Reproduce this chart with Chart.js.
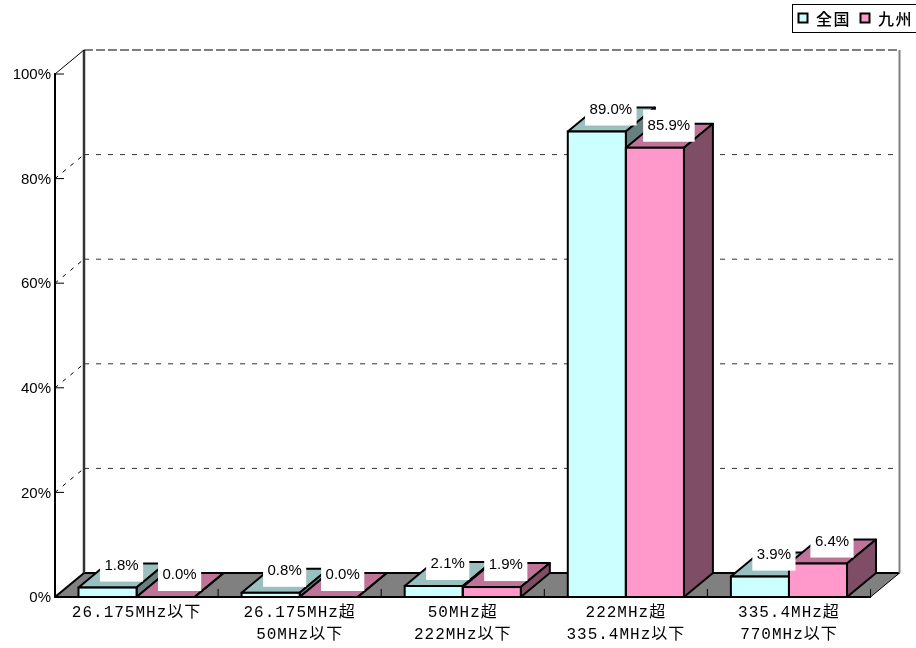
<!DOCTYPE html>
<html>
<head>
<meta charset="utf-8">
<script src="https://cdn.jsdelivr.net/npm/chart.js@4"></script>
<style>
  html, body { margin: 0; background: #fff; }
  canvas { display: block; }
</style>
</head>
<body>
<canvas id="myChart" width="916" height="648"></canvas>
<script>
var categories = [
  "26.175MHz以下",
  ["26.175MHz超", "50MHz以下"],
  ["50MHz超", "222MHz以下"],
  ["222MHz超", "335.4MHz以下"],
  ["335.4MHz超", "770MHz以下"]
]
var zenkoku = [1.8, 0.8, 2.1, 89.0, 3.9]
var kyushu = [0.0, 0.0, 1.9, 85.9, 6.4]
var yTicks = [0, 20, 40, 60, 80, 100]

// depth of the fake 3D box
var DX = 29
var DY = -24

var faces = [
  { front: "#CCFFFF", top: "#99BFBF", side: "#668080" },
  { front: "#FF99CC", top: "#BF7399", side: "#804D66" }
]

function poly(ctx, pts, fill, stroke, width) {
  ctx.beginPath()
  ctx.moveTo(pts[0][0], pts[0][1])
  for (var i = 1; i < pts.length; i++) ctx.lineTo(pts[i][0], pts[i][1])
  ctx.closePath()
  if (fill) { ctx.fillStyle = fill; ctx.fill() }
  if (stroke) { ctx.strokeStyle = stroke; ctx.lineWidth = width; ctx.stroke() }
}

function line(ctx, x1, y1, x2, y2, color, width, dash) {
  ctx.beginPath()
  ctx.setLineDash(dash || [])
  ctx.moveTo(x1, y1)
  ctx.lineTo(x2, y2)
  ctx.strokeStyle = color
  ctx.lineWidth = width
  ctx.stroke()
  ctx.setLineDash([])
}

// x labels are spaced out like a fixed width font, y labels sit a pixel lower
function tweakLabels(chart) {
  var sx = chart.scales.x
  var sy = chart.scales.y
  if (sx.tweaked) return
  sx.tweaked = true
  var drawX = sx.drawLabels
  sx.drawLabels = function (area) {
    chart.ctx.save()
    chart.ctx.letterSpacing = "1px"
    drawX.call(sx, area)
    chart.ctx.restore()
  }
  var drawY = sy.drawLabels
  sy.drawLabels = function (area) {
    chart.ctx.save()
    chart.ctx.translate(0, 1)
    drawY.call(sy, area)
    chart.ctx.restore()
  }
}

var box3d = {
  id: "box3d",
  // walls, floor and grid
  beforeDraw: function (chart) {
    tweakLabels(chart)
    var ctx = chart.ctx
    var x = chart.scales.x
    var y = chart.scales.y
    var left = x.left, right = x.right
    var y0 = y.getPixelForValue(0)
    var y100 = y.getPixelForValue(100)
    ctx.save()
    poly(ctx, [[left, y0], [left + DX, y0 + DY], [right + DX, y0 + DY], [right, y0]], "#808080")
    line(ctx, left + DX, y0 + DY, right + DX, y0 + DY, "#000", 2)
    line(ctx, left, y0, left + DX, y0 + DY, "#000", 2)
    line(ctx, right, y0, right + DX, y0 + DY, "#000", 1)
    line(ctx, left + DX, y100 + DY, left + DX, y0 + DY, "#333", 2.5)
    line(ctx, right + DX, y100 + DY, right + DX, y0 + DY, "#808080", 2)
    line(ctx, left, y100, left + DX, y100 + DY, "#000", 1)
    line(ctx, left + DX, y100 + DY, right + DX, y100 + DY, "#000", 1, [9, 3])
    yTicks.forEach(function (v) {
      var py = y.getPixelForValue(v)
      if (v > 0 && v < 100) {
        line(ctx, left, py, left + DX, py + DY, "#000", 1, [4, 6])
        line(ctx, left + DX, py + DY, right + DX, py + DY, "#333", 1, [5, 7])
      }
      if (v > 0) line(ctx, left, py, left + 9, py, "#000", 1)
    })
    // category ticks along the front edge of the floor
    var step = (right - left) / categories.length
    for (var i = 1; i <= categories.length; i++) {
      line(ctx, left + step * i, y0, left + step * i, y0 - 8, "#000", 1)
    }
    ctx.restore()
  },
  // top and side faces, the chart paints the front faces after this
  beforeDatasetsDraw: function (chart) {
    var ctx = chart.ctx
    ctx.save()
    categories.forEach(function (c, i) {
      chart.data.datasets.forEach(function (ds, d) {
        var bar = chart.getDatasetMeta(d).data[i]
        var l = bar.x - bar.width / 2, r = bar.x + bar.width / 2
        var t = bar.y, b = bar.base
        ctx.lineJoin = "round"
        poly(ctx, [[l, t], [l + DX, t + DY], [r + DX, t + DY], [r, t]], faces[d].top, "#000", 2)
        poly(ctx, [[r, t], [r + DX, t + DY], [r + DX, b + DY], [r, b]], faces[d].side, "#000", 2)
      })
    })
    ctx.restore()
  },
  // outlines centred on the front faces, so the thin bars still show colour
  afterDatasetsDraw: function (chart) {
    var ctx = chart.ctx
    ctx.save()
    chart.data.datasets.forEach(function (ds, d) {
      chart.getDatasetMeta(d).data.forEach(function (bar) {
        ctx.strokeStyle = "#000"
        ctx.lineWidth = 2
        ctx.strokeRect(bar.x - bar.width / 2, bar.y, bar.width, bar.base - bar.y)
      })
    })
    ctx.restore()
  },
  // value labels and the legend box
  afterDraw: function (chart) {
    var ctx = chart.ctx
    ctx.save()
    ctx.font = "15px 'Liberation Sans'"
    ctx.textAlign = "center"
    ctx.textBaseline = "middle"
    chart.data.datasets.forEach(function (ds, d) {
      chart.getDatasetMeta(d).data.forEach(function (bar, i) {
        var text = ds.data[i].toFixed(1) + "%"
        var w = ctx.measureText(text).width + 9
        var cx = bar.x + 14, cy = bar.y - 22
        ctx.fillStyle = "#fff"
        ctx.fillRect(cx - w / 2, cy - 16, w, 32)
        ctx.fillStyle = "#000"
        ctx.fillText(text, cx, cy)
      })
    })

    ctx.fillStyle = "#fff"
    ctx.fillRect(792.5, 4.5, 130, 28)
    ctx.strokeStyle = "#000"
    ctx.lineWidth = 1
    ctx.strokeRect(792.5, 4.5, 130, 28)
    ctx.font = "500 16px 'Noto Sans CJK JP'"
    ctx.letterSpacing = "1.5px"
    ctx.textAlign = "left"
    var swatchX = [798, 860]
    chart.data.datasets.forEach(function (ds, d) {
      ctx.fillStyle = ds.backgroundColor
      ctx.fillRect(swatchX[d] + 0.5, 13.5, 9, 9)
      ctx.lineWidth = 2
      ctx.strokeRect(swatchX[d] + 0.5, 13.5, 9, 9)
      ctx.fillStyle = "#000"
      ctx.fillText(ds.label, swatchX[d] + 18, 19)
    })
    ctx.restore()
  }
}

var myChart = document.getElementById("myChart").getContext("2d")

var chart = new Chart(myChart, {
  type: "bar",
  data: {
    labels: categories,
    datasets: [
      { label: "全国", data: zenkoku, backgroundColor: faces[0].front, borderWidth: 0 },
      { label: "九州", data: kyushu, backgroundColor: faces[1].front, borderWidth: 0 }
    ]
  },
  options: {
    responsive: false,
    animation: false,
    layout: { padding: { top: 74, right: 45.5 } },
    categoryPercentage: 0.712,
    barPercentage: 1,
    plugins: { legend: { display: false }, tooltip: { enabled: false } },
    scales: {
      x: {
        afterFit: function (s) { s.height = 51 },
        grid: { display: false, drawTicks: false },
        border: { display: true, color: "#000", width: 2 },
        ticks: {
          padding: 5,
          color: "#000",
          maxRotation: 0,
          autoSkip: false,
          font: { family: "'Liberation Mono', 'Noto Sans CJK JP'", size: 16, lineHeight: 1.375 }
        }
      },
      y: {
        min: 0,
        max: 100,
        afterFit: function (s) { s.width = 55 },
        afterBuildTicks: function (s) {
          s.ticks = yTicks.map(function (v) { return { value: v } })
        },
        grid: { display: false, drawTicks: false },
        border: { display: true, color: "#000", width: 2 },
        ticks: {
          padding: 4,
          color: "#000",
          font: { family: "'Liberation Sans'", size: 15 },
          callback: function (v) { return v + "%" }
        }
      }
    }
  },
  plugins: [box3d]
})
</script>
</body>
</html>
